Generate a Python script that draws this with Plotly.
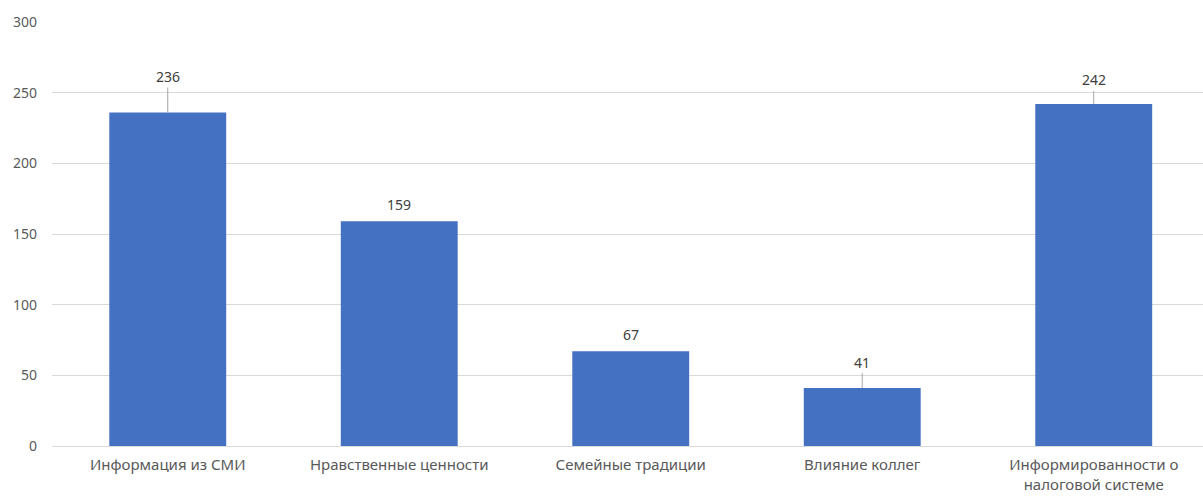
import plotly.graph_objects as go

categories = ["Информация из СМИ", "Нравственные ценности", "Семейные традиции",
              "Влияние коллег", "Информированности о налоговой системе"]
tick_labels = ["Информация из СМИ", "Нравственные ценности", "Семейные традиции",
               "Влияние коллег", "Информированности о<br>налоговой системе"]
values = [236, 159, 67, 41, 242]
label_offsets = [-36, -17, -17, -26, -24]
label_arrows = [True, False, False, True, True]

x_idx = list(range(len(categories)))

fig = go.Figure()
fig.add_trace(go.Bar(
    x=x_idx, y=values, width=0.505,
    marker=dict(color="#4571C3", line=dict(width=0)),
    hoverinfo="skip",
))

for xi, v, off, arr in zip(x_idx, values, label_offsets, label_arrows):
    if arr:
        fig.add_annotation(x=xi, y=v, xref="x", yref="y", text=str(v),
                           showarrow=True, arrowhead=0, arrowwidth=1,
                           arrowcolor="#A6A6A6", ax=0, ay=off, standoff=0,
                           font=dict(family="Noto Sans", size=14, color="#404040"))
    else:
        fig.add_annotation(x=xi, y=v, xref="x", yref="y", text=str(v),
                           showarrow=False, yshift=-off,
                           font=dict(family="Noto Sans", size=14, color="#404040"))

fig.update_layout(
    width=1203, height=497,
    margin=dict(l=52, r=0, t=22, b=51),
    paper_bgcolor="white", plot_bgcolor="white",
    showlegend=False,
    font=dict(family="Noto Sans", size=14, color="#595959"),
    xaxis=dict(tickmode="array", tickvals=x_idx, ticktext=tick_labels,
               range=[-0.5, 4.472], showgrid=False, zeroline=False,
               showline=False, ticks="", ticklabelstandoff=8,
               tickfont=dict(size=15, color="#595959")),
    yaxis=dict(range=[0, 300], tickvals=[0, 50, 100, 150, 200, 250, 300],
               showgrid=True, gridcolor="#D9D9D9", gridwidth=1,
               zeroline=True, zerolinecolor="#D9D9D9", zerolinewidth=1,
               ticks="", ticklabelstandoff=14,
               tickfont=dict(size=14, color="#595959")),
)

fig.write_html("out.html")
